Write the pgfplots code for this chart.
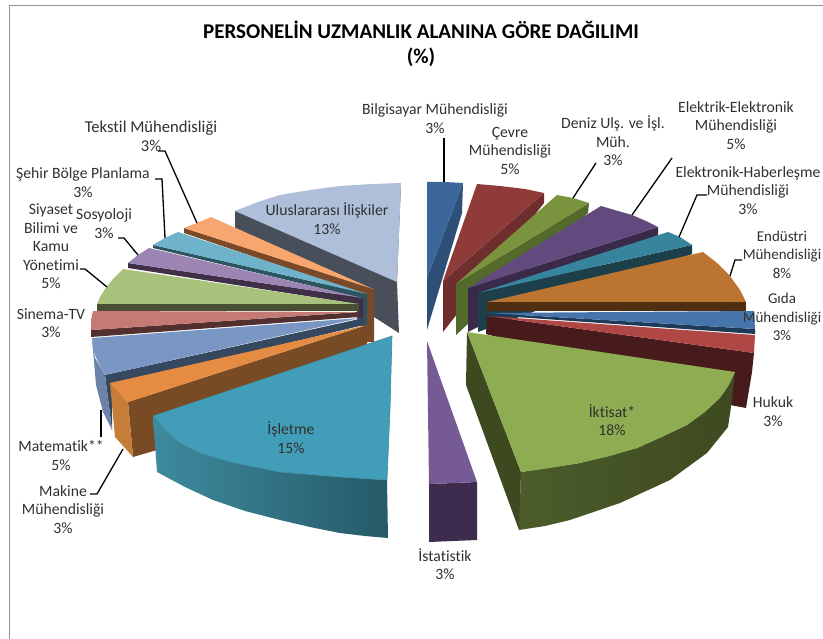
\documentclass[border=0pt]{standalone}
\usepackage{fontspec}
\setmainfont[Ligatures=NoCommon]{Carlito}
\usepackage{pgfplots}
\pgfplotsset{compat=1.18}
\definecolor{tblue}{HTML}{3A6699}\definecolor{sblue}{HTML}{2E5078}
\definecolor{tred}{HTML}{8E3B3A}\definecolor{sred}{HTML}{6E2E2D}
\definecolor{tgrn}{HTML}{7A933F}\definecolor{sgrn}{HTML}{536A2A}
\definecolor{tpur}{HTML}{624A7E}\definecolor{spur}{HTML}{3A2A4A}
\definecolor{ttea}{HTML}{37859D}\definecolor{stea}{HTML}{1C3F4A}
\definecolor{tora}{HTML}{BC7431}\definecolor{sora}{HTML}{4F2E12}
\definecolor{tgid}{HTML}{4675AC}\definecolor{sgid}{HTML}{1E3A58}
\definecolor{thuk}{HTML}{AF4745}\definecolor{shuk}{HTML}{471A1B}
\definecolor{tikt}{HTML}{8EAD52}\definecolor{sikt}{HTML}{3D4A20}\definecolor{sikl}{HTML}{4C5C2A}
\definecolor{tist}{HTML}{755A96}\definecolor{sist}{HTML}{3E2C4E}
\definecolor{tisl}{HTML}{429EB8}\definecolor{sisl}{HTML}{3E8A9E}\definecolor{sisr}{HTML}{265A68}
\definecolor{tmak}{HTML}{E68C42}\definecolor{lmak}{HTML}{C67D38}\definecolor{smak}{HTML}{784B24}
\definecolor{tmat}{HTML}{7A97C4}\definecolor{lmat}{HTML}{6C82A8}\definecolor{smat}{HTML}{354860}
\definecolor{tsin}{HTML}{C57A76}\definecolor{ssin}{HTML}{51302F}
\definecolor{tsiy}{HTML}{A8C27C}\definecolor{ssiy}{HTML}{484F32}
\definecolor{tsos}{HTML}{9C85B2}\definecolor{ssos}{HTML}{3F3048}
\definecolor{tseh}{HTML}{6FB3CB}\definecolor{sseh}{HTML}{2B5460}
\definecolor{ttek}{HTML}{F7A66F}\definecolor{stek}{HTML}{7A4A28}
\definecolor{tulu}{HTML}{B0BFD9}\definecolor{sulu}{HTML}{484F5B}
\definecolor{txt}{HTML}{303030}
\begin{document}
\begin{tikzpicture}[x=1pt,y=1pt]
\clip[use as bounding box] (0,0) rectangle (823,639);
\begin{axis}[at={(0,0)},anchor=south west,scale only axis,width=823pt,height=639pt,
  xmin=0,xmax=823,ymin=0,ymax=639,y dir=reverse,hide axis,clip=false,
  f/.style={fill=#1,draw=none},
  lead/.style={black,line width=1.3pt},
  nodes={font=\fontsize{15.7}{18.5}\selectfont,text=txt,align=center,inner sep=0pt}]
% frame
\addplot[color=gray!85,line width=1.6pt] coordinates {(9.5,639) (9.5,5.5) (823,5.5)};
% Uluslararasi
\addplot[f=sulu] coordinates {(235,211)(235,228)(399,333)(397,282)(401,183)} --cycle;
\addplot[f=tulu] coordinates {(235,211)(258,202)(280,195)(310,190)(340,186)(372,184)(401,183)(397,282)} --cycle;
% Bilgisayar
\addplot[f=sblue] coordinates {(463,183)(462,213)(427,330)(427,278)} --cycle;
\addplot[f=tblue] coordinates {(427,182)(445,182)(463,183)(427,278)} --cycle;
% Cevre
\addplot[f=sred] coordinates {(544,193)(544,203)(443,332)(443,281)} --cycle;
\addplot[f=tred] coordinates {(477,184)(500,186)(525,189)(544,193)(443,281)} --cycle;
% Deniz
\addplot[f=sgrn] coordinates {(589,203)(588,213)(456,335)(456,284)} --cycle;
\addplot[f=tgrn] coordinates {(557,195)(573,198)(589,203)(456,284)} --cycle;
% Elektrik
\addplot[f=spur] coordinates {(658,227)(658,235)(468,332)(468,288)} --cycle;
\addplot[f=tpur] coordinates {(601,206)(618,211)(632,215)(646,221)(658,227)(468,288)} --cycle;
% Elektronik
\addplot[f=stea] coordinates {(692,245)(692,254)(478,332)(478,293)} --cycle;
\addplot[f=ttea] coordinates {(668,232)(680,237)(692,245)(478,293)} --cycle;
% Endustri
\addplot[f=sora] coordinates {(487,302)(746,302)(746,311)(487,311)} --cycle;
\addplot[f=tora] coordinates {(703,252)(717,263)(730,276)(740,290)(746,302)(487,302)} --cycle;
% Gida
\addplot[f=sgid] coordinates {(488,313)(755,329)(755,334)(488,315)} --cycle;
\addplot[f=tgid] coordinates {(488,313)(754,311)(755,329)} --cycle;
% Hukuk
\addplot[f=shuk] coordinates {(487,316)(754,353)(752,372)(746,408)(730,405)(486,334)} --cycle;
\addplot[f=thuk] coordinates {(487,316)(755,335)(754,353)} --cycle;
% Tekstil
\addplot[f=stek] coordinates {(184,228)(184,233)(366,295)(366,342)(374,342)(374,289)} --cycle;
\addplot[f=ttek] coordinates {(211,217)(197,223)(184,228)(373,289)} --cycle;
% Sehir
\addplot[f=sseh] coordinates {(153,245)(153,248)(362,298)(362,326)(367,326)(367,294)} --cycle;
\addplot[f=tseh] coordinates {(178,232)(165,238)(153,245)(367,294)} --cycle;
% Sosyoloji
\addplot[f=ssos] coordinates {(128,263)(128,268)(357,304)(357,326)(363,326)(363,298)} --cycle;
\addplot[f=tsos] coordinates {(149,248)(138,255)(128,263)(363,298)} --cycle;
% Siyaset
\addplot[f=ssiy] coordinates {(97,304)(97,311)(359,311)(359,304)} --cycle;
\addplot[f=tsiy] coordinates {(123,269)(113,279)(105,289)(100,297)(97,304)(359,304)} --cycle;
% Sinema
\addplot[f=ssin] coordinates {(91,330)(91,337)(359,317)(359,312)} --cycle;
\addplot[f=tsin] coordinates {(93,311)(91,320)(91,330)(359,312)} --cycle;
% Matematik
\addplot[f=smat] coordinates {(105,375)(112,430)(112,385)(364,325)(364,318)} --cycle;
\addplot[f=lmat] coordinates {(92,338)(95,358)(105,375)(112,430)(103,412)(96,385)} --cycle;
\addplot[f=tmat] coordinates {(92,338)(360,318)(105,375)(98,362)(93,350)} --cycle;
% Makine
\addplot[f=smak] coordinates {(128,402)(133,457)(157,450)(367,345)(367,325)} --cycle;
\addplot[f=lmak] coordinates {(110,383)(115,437)(133,457)(128,402)} --cycle;
\addplot[f=tmak] coordinates {(110,383)(367,325)(128,402)} --cycle;
% Isletme
\addplot[left color=sisl,right color=sisr,draw=none] coordinates {(153,416)(157,472)(185,487)(213,500)(245,511)(280,520)(310,527)(340,533)(365,536)(388,538)(387,480)(340,477)(280,472)(230,462)(200,453)(180,443)(165,430)} --cycle;
\addplot[f=tisl,draw=sisl,line width=.6pt] coordinates {(392,336)(390,410)(387,480)(340,477)(280,472)(230,462)(200,453)(180,443)(165,430)(153,416)} --cycle;
% Istatistik
\addplot[f=sist] coordinates {(429,484)(477,482)(477,540)(429,542)} --cycle;
\addplot[f=tist] coordinates {(427,341)(477,482)(429,484)} --cycle;
% Iktisat
\addplot[left color=sikl,right color=sikt,draw=none] coordinates {(521,472)(519,530)(545,526)(570,520)(620,503)(670,480)(707,453)(728,427)(731,407)(735,372)(720,398)(687,425)(637,448)(580,463)} --cycle;
\addplot[f=sikt] coordinates {(467,332)(466,385)(519,530)(521,472)} --cycle;
\addplot[f=tikt] coordinates {(467,332)(735,372)(729,385)(720,398)(705,412)(687,425)(662,437)(637,448)(610,456)(580,463)(550,468)(521,472)} --cycle;
% leaders
\addplot[lead] coordinates {(444,138)(444,182)};
\addplot[lead] coordinates {(573,198)(596,163)};
\addplot[lead] coordinates {(632,215)(672,158)};
\addplot[lead] coordinates {(679,237)(697,195)(707,195)};
\addplot[lead] coordinates {(730,276)(735,260)(742,260)};
\addplot[lead] coordinates {(197,223)(165,151)(158,151)};
\addplot[lead] coordinates {(165,238)(162,179)(155,179)};
\addplot[lead] coordinates {(138,255)(124,238)(118,238)};
\addplot[lead] coordinates {(107,287)(85,269)(80,269)};
\addplot[lead] coordinates {(101,410)(101,437)};
\addplot[lead] coordinates {(123,449)(97,494)(90,494)};
% title
\node[font=\fontsize{21}{25}\selectfont\bfseries,text=black] at (axis cs:421,43.5) {PERSONELİN UZMANLIK ALANINA GÖRE DAĞILIMI\\(\%)};
% labels
\node at (axis cs:435,118.5) {Bilgisayar Mühendisliği\\3\%};
\node at (axis cs:510,150.5) {Çevre\\Mühendisliği\\5\%};
\node at (axis cs:613,141) {Deniz Ulş. ve İşl.\\Müh.\\3\%};
\node at (axis cs:736,125.5) {Elektrik-Elektronik\\Mühendisliği\\5\%};
\node at (axis cs:748,190.5) {Elektronik-Haberleşme\\Mühendisliği\\3\%};
\node[font=\fontsize{15}{18.5}\selectfont] at (axis cs:782,254.5) {Endüstri\\Mühendisliği\\8\%};
\node[font=\fontsize{15}{18.5}\selectfont] at (axis cs:782,317) {Gıda\\Mühendisliği\\3\%};
\node at (axis cs:773,411.5) {Hukuk\\3\%};
\node at (axis cs:612,420) {İktisat*\\18\%};
\node at (axis cs:291,437.5) {İşletme\\15\%};
\node at (axis cs:445,564) {İstatistik\\3\%};
\node at (axis cs:63,509.5) {Makine\\Mühendisliği\\3\%};
\node at (axis cs:61,455.5) {Matematik**\\5\%};
\node at (axis cs:51,323) {Sinema-TV\\3\%};
\node at (axis cs:51,246.5) {Siyaset\\Bilimi ve\\Kamu\\Yönetimi\\5\%};
\node at (axis cs:104,223.5) {Sosyoloji\\3\%};
\node at (axis cs:83,182.5) {Şehir Bölge Planlama\\3\%};
\node[font=\fontsize{16.6}{18.5}\selectfont] at (axis cs:151,136.5) {Tekstil Mühendisliği\\3\%};
\node at (axis cs:327,218.5) {Uluslararası İlişkiler\\13\%};
\end{axis}
\end{tikzpicture}
\end{document}
